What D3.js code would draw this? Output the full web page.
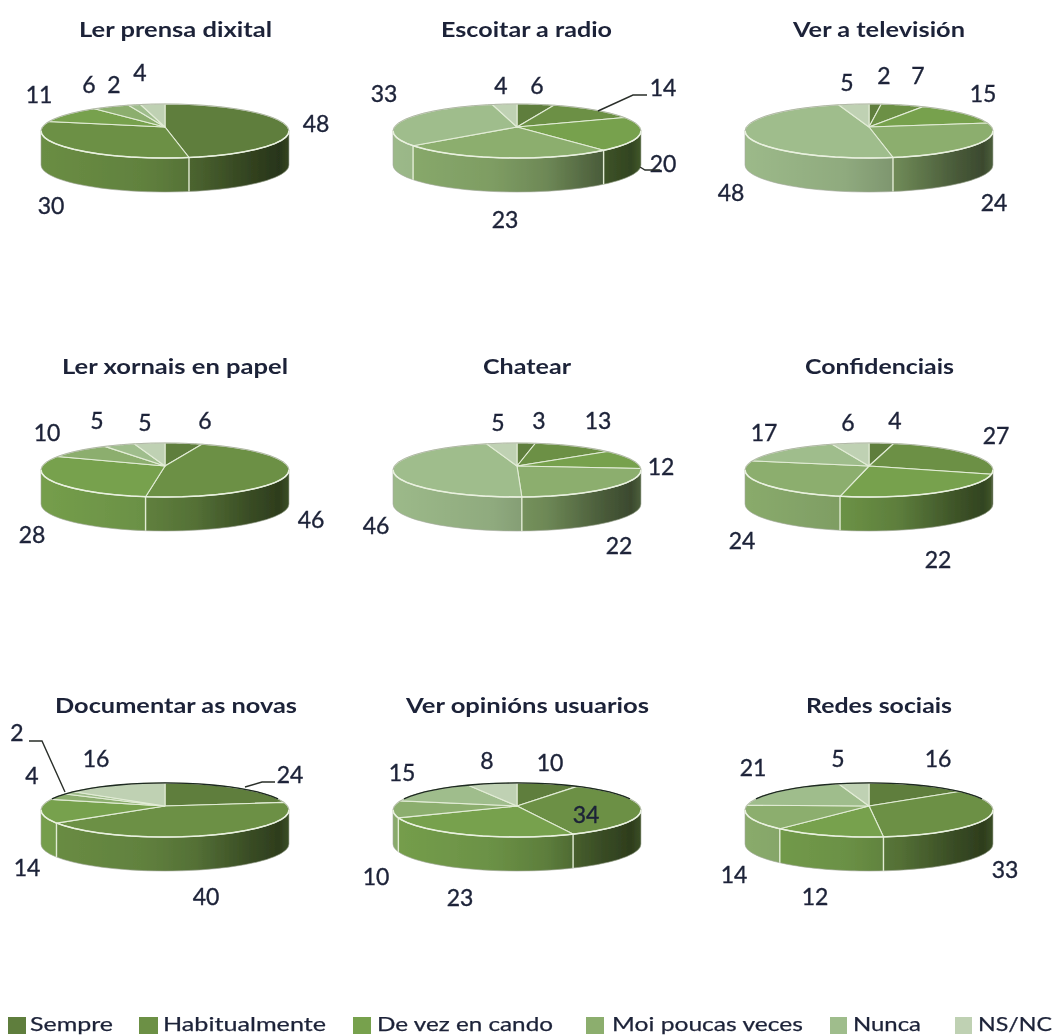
<!DOCTYPE html>
<html><head><meta charset="utf-8">
<script src="https://cdnjs.cloudflare.com/ajax/libs/d3/7.8.5/d3.min.js"></script>
<style>html,body{margin:0;padding:0;background:#fff;overflow:hidden}svg{display:block}</style>
</head><body><svg id="c" width="1053" height="1035"></svg>
<script>
const categories = ["Sempre","Habitualmente","De vez en cando","Moi poucas veces","Nunca","NS/NC"];
const titles = ["Ler prensa dixital","Escoitar a radio","Ver a televisión","Ler xornais en papel","Chatear","Confidenciais","Documentar as novas","Ver opinións usuarios","Redes sociais"];
const prensa = [48,30,11,6,2,4];
const radio = [6,14,20,23,33,4];
const television = [2,7,15,24,48,5];
const xornais = [6,46,28,10,5,5];
const chatear = [3,13,12,22,46,5];
const confidenciais = [4,27,22,24,17,6];
const documentar = [24,40,14,4,2,16];
const opinions = [10,34,23,10,15,8];
const redes = [16,33,12,14,21,5];
const seriesValues = [prensa,radio,television,xornais,chatear,confidenciais,documentar,opinions,redes];

// layout, separate from the data
const colours = ["#5f7e3c","#6c9045","#77a14d","#8cae6e","#9fbd8c","#bfd1b3"];
const columnX = [165,517,869], rowTop = [104,443,783];
const titleX = [[79,272],[441,612],[793,965],[62,288],[483,571],[805,954],[55,297],[406,649],[806,952]];
const titleY = [30,367,706];
const labelXY = [
 [[316,124],[51,206],[39,95],[89,85],[114,85],[140,73]],
 [[537,86],[663,88],[663,164],[505,220],[384,94],[501,86]],
 [[884,76],[918,76],[983,94],[994,203],[731,193],[847,83]],
 [[205,421],[311,520],[32,535],[47,433],[97,421],[145,423]],
 [[539,421],[598,421],[661,467],[619,546],[376,526],[498,423]],
 [[895,421],[996,436],[938,560],[742,541],[764,433],[848,423]],
 [[290,775],[206,897],[27,868],[32,776],[17,733],[96,759]],
 [[550,763],[586,815],[460,898],[376,877],[402,773],[487,761]],
 [[938,759],[1005,870],[815,897],[734,875],[753,768],[838,759]]];
const leaders = [
 [[598,111],[633,95],[647,95]],
 [[640,167],[645,170],[660,170]],
 [[65,792],[42,741],[29,741]],
 [[245,787],[262,782],[275,782]]];
const legendX = [[8,26,30,113],[139,158,163,326],[353,371,377,553],[586,604,612,803],[830,847,853,921],[955,972,978,1052]];

const svg = d3.select("#c");
const defs = svg.append("defs");
defs.append("filter").attr("id","soft").attr("x","-5%").attr("y","-5%").attr("width","110%").attr("height","110%")
  .append("feGaussianBlur").attr("stdDeviation",0.65);
const grad = defs.append("linearGradient").attr("id","shade").attr("x1",0).attr("x2",1).attr("y1",0).attr("y2",0);
[[0,0.02],[0.4,0.1],[0.62,0.22],[0.85,0.48],[0.96,0.58],[1,0.45]].forEach(([o,a])=>
  grad.append("stop").attr("offset",o).attr("stop-color","#000").attr("stop-opacity",a));

const root = svg.append("g").attr("filter","url(#soft)");
const colour = d3.scaleOrdinal(categories,colours);
const pie = d3.pie().sort(null).startAngle(0).endAngle(2*Math.PI);
const P = 0.222, A = 25.7, RX = 120.9, APEX = 21, APEX_SHIFT = 2, DEPTH = 34;
const LEFT = 2*Math.PI-Math.acos(-P), RIGHT = Math.acos(-P), EDGE = 0.17, DARK = 1.36;
const rim = (t,cx,cy)=>{const u=Math.sin(t),v=Math.cos(t),k=1+P*v;return [cx+RX*u/k,cy-A*v/k];};
const samples = (a,b)=>d3.range(0,25).map(i=>a+(b-a)*i/24);
const line = d3.line();

seriesValues.forEach((vals,i)=>{
  const cx = columnX[i%3], cy = rowTop[Math.floor(i/3)]+APEX;
  const g = root.append("g");
  const arcs = pie(vals);
  arcs.forEach((d,j)=>{
    const a=Math.max(d.startAngle,RIGHT), b=Math.min(d.endAngle,LEFT);
    if(b<=a) return;
    const top=samples(a,b).map(t=>rim(t,cx,cy));
    const bottom=top.map(p=>[p[0],p[1]+DEPTH]).reverse();
    g.append("path").attr("d",line(top.concat(bottom))+"Z").attr("fill",colour(categories[j]));
  });
  const wallTop=samples(RIGHT,LEFT).map(t=>rim(t,cx,cy));
  const wallBottom=wallTop.map(p=>[p[0],p[1]+DEPTH]).reverse();
  g.append("path").attr("d",line(wallTop.concat(wallBottom))+"Z").attr("fill","url(#shade)")
    .attr("stroke","#a5aa9e").attr("stroke-width",0.6);
  arcs.forEach(d=>{
    if(d.endAngle>RIGHT+EDGE && d.endAngle<LEFT-EDGE){
      const p=rim(d.endAngle,cx,cy);
      g.append("path").attr("d",line([p,[p[0],p[1]+DEPTH]])).attr("stroke","#e2ecd4").attr("stroke-width",1.4);
    }
  });
  arcs.forEach((d,j)=>{
    const pts=samples(d.startAngle,d.endAngle).map(t=>rim(t,cx,cy));
    g.append("path").attr("d",line([[cx,cy+APEX_SHIFT],...pts])+"Z")
      .attr("fill",colour(categories[j])).attr("stroke","#e2ecd6").attr("stroke-width",1.1);
  });
  g.append("path").attr("d",line(wallTop)).attr("fill","none").attr("stroke","#e9f1df").attr("stroke-width",1.5);
  const backGrey=samples(LEFT-2*Math.PI,RIGHT).map(t=>rim(t,cx,cy));
  g.append("path").attr("d",line(backGrey)).attr("fill","none").attr("stroke","#a3a89b").attr("stroke-width",0.8);
  if(i>=6){
    const backDark=samples(-DARK,DARK).map(t=>rim(t,cx,cy));
    g.append("path").attr("d",line(backDark)).attr("fill","none").attr("stroke","#1f2a20").attr("stroke-width",1.3);
  }
  const tx=titleX[i];
  root.append("text").text(titles[i]).attr("x",tx[0]).attr("y",titleY[Math.floor(i/3)]+7)
    .attr("textLength",tx[1]-tx[0]).attr("lengthAdjust","spacingAndGlyphs")
    .attr("font-family","Lato").attr("font-weight",700).attr("font-size",21).attr("fill","#1c2238");
  vals.forEach((v,j)=>{
    root.append("text").text(v).attr("x",labelXY[i][j][0]).attr("y",labelXY[i][j][1]+8)
      .attr("text-anchor","middle").attr("font-family","Lato").attr("font-size",23)
      .attr("fill","#1c2238").attr("stroke","#1c2238").attr("stroke-width",0.35);
  });
});
leaders.forEach(l=>root.append("path").attr("d",line(l)).attr("fill","none").attr("stroke","#2a2f2a").attr("stroke-width",1.4));
categories.forEach((c,j)=>{
  const x=legendX[j];
  root.append("rect").attr("x",x[0]).attr("y",1017).attr("width",x[1]-x[0]).attr("height",17).attr("fill",colour(c));
  root.append("text").text(c).attr("x",x[2]).attr("y",1030.5)
    .attr("textLength",x[3]-x[2]).attr("lengthAdjust","spacingAndGlyphs")
    .attr("font-family","Lato").attr("font-size",20).attr("fill","#1c2238").attr("stroke","#1c2238").attr("stroke-width",0.25);
});
</script></body></html>
